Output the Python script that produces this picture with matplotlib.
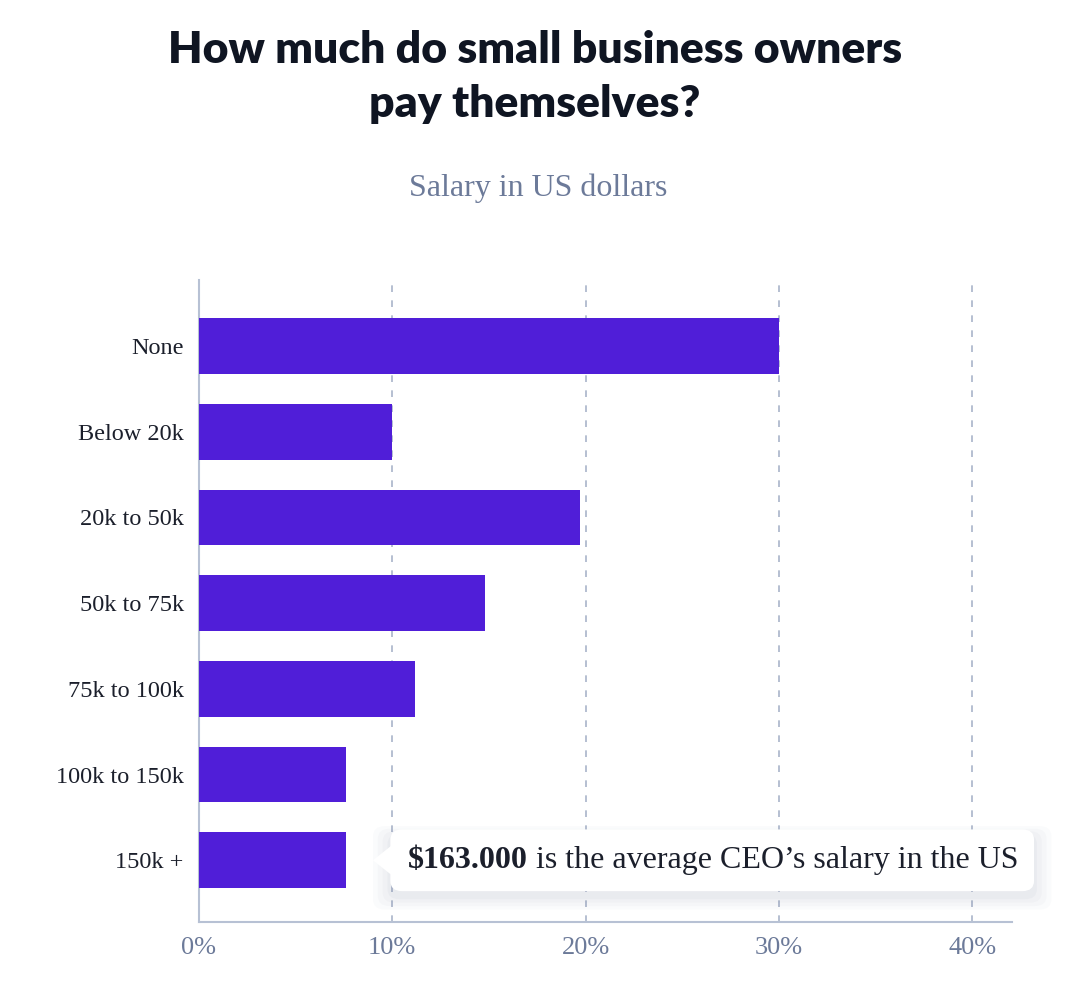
import matplotlib
matplotlib.use("Agg")
import matplotlib.pyplot as plt
from matplotlib.patches import FancyBboxPatch, Polygon

# Dados
categories = ["None", "Below 20k", "20k to 50k", "50k to 75k", "75k to 100k", "100k to 150k", "150k +"]
shares = [30.0, 10.0, 19.7, 14.8, 11.2, 7.6, 7.6]
x_ticks = [0, 10, 20, 30, 40]
x_tick_labels = ["0%", "10%", "20%", "30%", "40%"]
note_bold = "$163.000"
note_rest = " is the average CEO\u2019s salary in the US"

bar_color = "#501ed8"
grid_color = "#a9b4c9"
spine_color = "#b7c1d4"
label_color = "#1b1f2b"
muted = "#6c7a99"
serif = ["Liberation Serif", "DejaVu Serif"]

fig = plt.figure(figsize=(10.84, 9.94), dpi=100)
ax = fig.add_axes([199 / 1084, 1 - 922 / 994, (1012 - 199) / 1084, (922 - 280) / 994])

y = list(range(len(categories)))
ax.barh(y, shares, height=0.65, color=bar_color, zorder=3)

ax.set_xlim(0, 42.06)
ax.set_ylim(6.72, -0.77)
ax.set_xticks(x_ticks)
ax.set_xticklabels(x_tick_labels, family=serif, fontsize=19, color=muted)
ax.set_yticks(y)
ax.set_yticklabels(categories, family=serif, fontsize=17.5, color=label_color)
ax.tick_params(axis="both", length=0)
ax.tick_params(axis="y", pad=11)
ax.tick_params(axis="x", pad=11)

ax.grid(axis="x", linestyle=(0, (4, 5)), color=grid_color, linewidth=1.2, zorder=0)
for s in ["top", "right"]:
    ax.spines[s].set_visible(False)
for s in ["left", "bottom"]:
    ax.spines[s].set_color(spine_color)
    ax.spines[s].set_linewidth(1.5)

# Caixa de nota com sombra suave
bx0, bx1 = 9.9, 43.2
by0, by1 = 6 - 0.36, 6 + 0.36
for i, a in enumerate([0.03, 0.035, 0.04, 0.05]):
    g = 0.9 - i * 0.25
    sh = FancyBboxPatch((bx0 - g, by0 - g * 0.12 + 0.07), (bx1 - bx0) + 2 * g, (by1 - by0) + 2 * g * 0.14,
                        boxstyle="round,pad=0,rounding_size=0.6", mutation_aspect=0.2,
                        fc="#7a84a0", ec="none", alpha=a, zorder=4, clip_on=False)
    ax.add_patch(sh)
box = FancyBboxPatch((bx0, by0), bx1 - bx0, by1 - by0,
                     boxstyle="round,pad=0,rounding_size=0.6", mutation_aspect=0.2,
                     fc="white", ec="none", zorder=5, clip_on=False)
ax.add_patch(box)
tri = Polygon([[9.0, 6.0], [9.95, 5.83], [9.95, 6.17]], closed=True, fc="white", ec="none",
              zorder=5, clip_on=False)
ax.add_patch(tri)

t1 = ax.text(10.8, 6.0, note_bold, family=serif, fontsize=23, fontweight="bold",
             color=label_color, va="center", ha="left", zorder=6, clip_on=False)
fig.canvas.draw()
bb = t1.get_window_extent()
x_end = ax.transData.inverted().transform((bb.x1, bb.y0))[0]
ax.text(x_end, 6.0, note_rest, family=serif, fontsize=23, color=label_color,
        va="center", ha="left", zorder=6, clip_on=False)

# Títulos
fig.text(535 / 1084, 1 - 77 / 994, "How much do small business owners\npay themselves?",
         ha="center", va="center", fontsize=32, fontweight="heavy", family=["Lato", "DejaVu Sans"],
         color="#0f1522", linespacing=1.45)
fig.text(538 / 1084, 1 - 188 / 994, "Salary in US dollars", ha="center", va="center",
         fontsize=23, family=serif, color=muted)

fig.savefig("out.png", dpi=100, facecolor="white")
